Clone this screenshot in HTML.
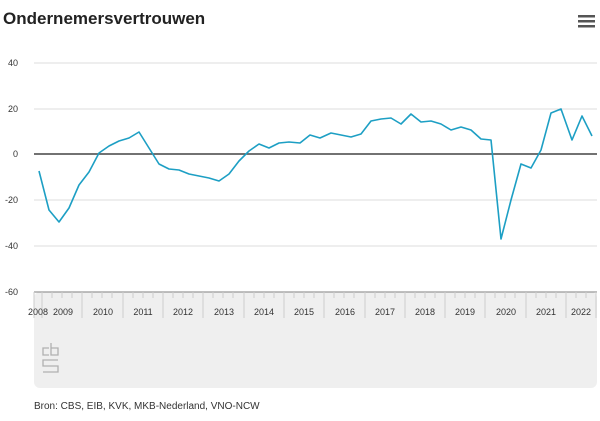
<!DOCTYPE html>
<html><head><meta charset="utf-8"><style>
body{margin:0;background:#fff;width:600px;height:416px;overflow:hidden;font-family:"Liberation Sans",sans-serif}
</style></head><body>
<svg width="600" height="416" xmlns="http://www.w3.org/2000/svg" font-family="Liberation Sans, sans-serif">
<text x="3" y="24" font-size="17" font-weight="bold" fill="#222">Ondernemersvertrouwen</text>
<g fill="#555"><rect x="578" y="15" width="17" height="2.5"/><rect x="578" y="20" width="17" height="2.5"/><rect x="578" y="25" width="17" height="2.5"/></g>
<rect x="34" y="292" width="563" height="96" rx="6" fill="#efefef"/>
<g stroke="#e3e3e3" stroke-width="1.2">
<line x1="34" x2="597" y1="63" y2="63"/><line x1="34" x2="597" y1="109" y2="109"/><line x1="34" x2="597" y1="200" y2="200"/><line x1="34" x2="597" y1="246" y2="246"/>
</g>
<line x1="34" x2="597" y1="292" y2="292" stroke="#999" stroke-width="1.2"/>
<line x1="34" x2="597" y1="154" y2="154" stroke="#444" stroke-width="1.6"/>
<g font-size="9" fill="#333" text-anchor="end">
<text x="18" y="66">40</text><text x="18" y="112">20</text><text x="18" y="157">0</text><text x="18" y="203">-20</text><text x="18" y="249">-40</text><text x="18" y="295">-60</text>
</g>
<g stroke="#ccc" stroke-width="1">
<path d="M34 292V318M42 292V318M82 292V318M123 292V318M163 292V318M203 292V318M244 292V318M284 292V318M324 292V318M365 292V318M405 292V318M445 292V318M485 292V318M526 292V318M566 292V318M596 292V318"/>
<path d="M52 292v6M62 292v6M72 292v6M92 292v6M102 292v6M112 292v6M133 292v6M143 292v6M153 292v6M173 292v6M183 292v6M193 292v6M213 292v6M223 292v6M233 292v6M254 292v6M264 292v6M274 292v6M294 292v6M304 292v6M314 292v6M334 292v6M344 292v6M354 292v6M375 292v6M385 292v6M395 292v6M415 292v6M425 292v6M435 292v6M455 292v6M465 292v6M475 292v6M495 292v6M505 292v6M515 292v6M536 292v6M546 292v6M556 292v6M576 292v6M586 292v6"/>
</g>
<g font-size="9" fill="#333" text-anchor="middle">
<text x="38" y="315">2008</text><text x="63" y="315">2009</text><text x="103" y="315">2010</text><text x="143" y="315">2011</text><text x="183" y="315">2012</text><text x="224" y="315">2013</text><text x="264" y="315">2014</text><text x="304" y="315">2015</text><text x="345" y="315">2016</text><text x="385" y="315">2017</text><text x="425" y="315">2018</text><text x="465" y="315">2019</text><text x="506" y="315">2020</text><text x="546" y="315">2021</text><text x="581" y="315">2022</text>
</g>
<g fill="none" stroke="#b0b0b0" stroke-width="1.3">
<path d="M49 348h-6v7h6"/><path d="M51 343v12h7v-7h-7"/>
<path d="M58 360h-15v6h15v6h-15"/>
</g>
<polyline fill="none" stroke="#1d9fc4" stroke-width="1.6" stroke-linejoin="round" points="39,171 49,210 59,222 69,208 79,185 89,172 99,153 109,146 119,141 129,138 139,132 149,148 159,164 169,169 179,170 189,174 199,176 209,178 219,181 229,174 239,161 249,151 259,144 269,148 279,143 289,142 300,143 310,135 320,138 331,133 341,135 351,137 361,134 371,121 381,119 391,118 401,124 411,114 421,122 431,121 441,124 451,130 461,127 471,130 481,139 491,140 501,239 511,200 521,164 531,168 541,150 551,113 561,109 572,140 582,116 592,136"/>
<text x="34" y="409" font-size="10" fill="#333">Bron: CBS, EIB, KVK, MKB-Nederland, VNO-NCW</text>
</svg>
</body></html>
